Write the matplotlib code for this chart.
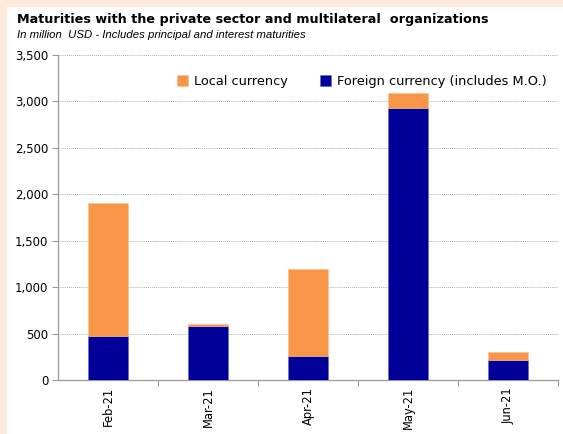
import numpy as np
import matplotlib.pyplot as plt
from matplotlib.patches import Rectangle
from matplotlib.ticker import FuncFormatter, FixedLocator

months = ['Feb-21', 'Mar-21', 'Apr-21', 'May-21', 'Jun-21']
foreign = [477, 578, 255, 2930, 215]   # foreign currency (includes M.O.)
local = [1425, 25, 940, 165, 90]       # local currency

orange = '#F79646'
navy = '#000099'
axcol = '#9A9A9A'

fig = plt.figure(figsize=(5.63, 4.34), dpi=100)
fig.patch.set_facecolor('white')
# peach frame on the top and left
fig.patches.append(Rectangle((0, 1 - 7/434), 1, 7/434, transform=fig.transFigure,
                             facecolor='#FDEADA', edgecolor='none', zorder=-1))
fig.patches.append(Rectangle((0, 0), 7/563, 1, transform=fig.transFigure,
                             facecolor='#FDEADA', edgecolor='none', zorder=-1))

ax = fig.add_axes([58/563, 54/434, 500/563, 325/434])
x = np.arange(len(months))
ax.bar(x, foreign, 0.4, color=navy, edgecolor='#6666CC', linewidth=0.4,
       label='Foreign currency (includes M.O.)', zorder=3)
ax.bar(x, local, 0.4, bottom=foreign, color=orange, edgecolor='#FAC090', linewidth=0.4,
       label='Local currency', zorder=3)

ax.set_xlim(-0.5, len(months) - 0.5)
ax.set_ylim(0, 3500)
ax.set_yticks(np.arange(0, 3501, 500))
ax.yaxis.set_major_formatter(FuncFormatter(lambda v, p: f'{int(v):,}'))
ax.grid(axis='y', color='#8C8C8C', linestyle=(0, (1, 1.5)), linewidth=0.6, zorder=0)

ax.set_xticks(x)
ax.set_xticklabels(months, rotation=90, fontsize=8.3)
ax.xaxis.set_minor_locator(FixedLocator(list(x + 0.5)))
ax.tick_params(axis='x', which='major', length=0, pad=5)
ax.tick_params(axis='x', which='minor', length=4, color=axcol, width=0.8)
ax.tick_params(axis='y', length=4, color=axcol, width=0.8, labelsize=8.5, pad=3)

for s in ['top', 'right']:
    ax.spines[s].set_visible(False)
for s in ['left', 'bottom']:
    ax.spines[s].set_color(axcol)
    ax.spines[s].set_linewidth(0.9)

h, l = ax.get_legend_handles_labels()
ax.legend(h[::-1], l[::-1], ncol=2, frameon=False, loc='upper right',
          bbox_to_anchor=(1.0, 0.975), fontsize=9.3, handlelength=0.9, handleheight=0.9,
          handletextpad=0.4, columnspacing=2.5)

fig.text(17/563, 1 - 20/434, 'Maturities with the private sector and multilateral  organizations',
         fontsize=9.2, fontweight='bold', va='center', ha='left')
fig.text(17/563, 1 - 35/434, 'In million  USD - Includes principal and interest maturities',
         fontsize=8.2, style='italic', va='center', ha='left', family='Liberation Sans')

fig.savefig('out.png', dpi=100)
